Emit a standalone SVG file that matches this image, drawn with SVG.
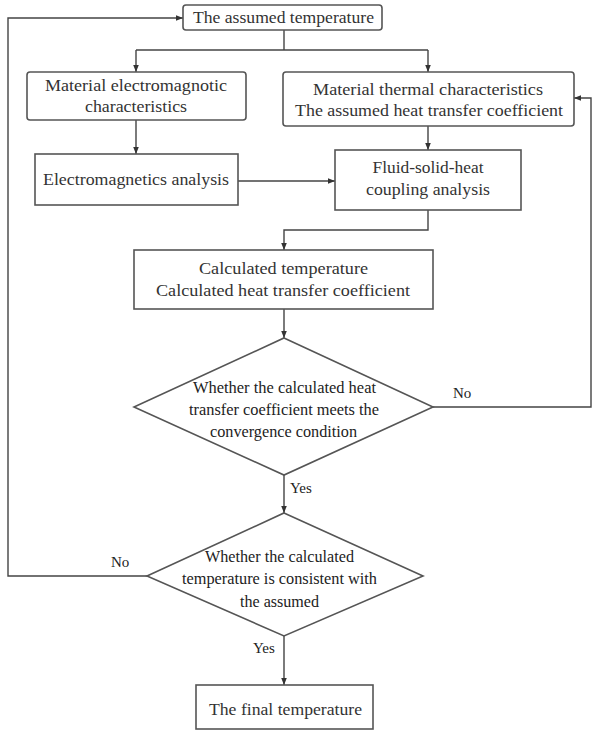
<svg xmlns="http://www.w3.org/2000/svg" width="592" height="731" viewBox="0 0 592 731" font-family="Liberation Serif">
<style>
.box{fill:#fff;stroke:#555;stroke-width:1.6}
.ln{fill:none;stroke:#444;stroke-width:1.4}
text{font-family:"Liberation Serif","Times New Roman",serif;font-size:16px;fill:#333;text-anchor:middle}
.lbl{font-size:15px;text-anchor:start;fill:#222}
.dt{fill:#222}
</style>
<defs>
<marker id="ah" viewBox="0 0 10 10" refX="10" refY="5" markerWidth="7" markerHeight="7" markerUnits="userSpaceOnUse" orient="auto">
<path d="M0,1 L10,5 L0,9 Z" fill="#333"/>
</marker>
</defs>
<rect width="592" height="731" fill="#fff"/>
<g id="connectors">
<path class="ln" d="M284,30 V50"/>
<path class="ln" d="M136,50 H428"/>
<path class="ln" d="M136,50 V72" marker-end="url(#ah)"/>
<path class="ln" d="M428,50 V72" marker-end="url(#ah)"/>
<path class="ln" d="M136,120 V154" marker-end="url(#ah)"/>
<path class="ln" d="M428,126 V150" marker-end="url(#ah)"/>
<path class="ln" d="M238,181 H335" marker-end="url(#ah)"/>
<path class="ln" d="M428,210 V230 H284 V250" marker-end="url(#ah)"/>
<path class="ln" d="M284,309 V338" marker-end="url(#ah)"/>
<path class="ln" d="M284,475 V513" marker-end="url(#ah)"/>
<path class="ln" d="M284,636 V685" marker-end="url(#ah)"/>
<path class="ln" d="M433,407 H591 V98 H574" marker-end="url(#ah)"/>
<path class="ln" d="M147,576 H8 V18 H183" marker-end="url(#ah)"/>
<text class="lbl" x="453" y="398">No</text>
<text class="lbl" x="290" y="493">Yes</text>
<text class="lbl" x="111" y="567">No</text>
<text class="lbl" x="253" y="653">Yes</text>
</g>
<g id="n1">
<rect class="box" x="183" y="5" width="199" height="25" rx="3"/>
<text x="283.5" y="23" textLength="181" lengthAdjust="spacingAndGlyphs">The assumed temperature</text>
</g>
<g id="n2">
<rect class="box" x="27" y="72" width="219" height="48" rx="3"/>
<text x="136" y="91" textLength="182" lengthAdjust="spacingAndGlyphs">Material electromagnotic</text>
<text x="136" y="112" textLength="102" lengthAdjust="spacingAndGlyphs">characteristics</text>
</g>
<g id="n3">
<rect class="box" x="283" y="72" width="291" height="54" rx="3"/>
<text x="428" y="95" textLength="230" lengthAdjust="spacingAndGlyphs">Material thermal characteristics</text>
<text x="429" y="116" textLength="268" lengthAdjust="spacingAndGlyphs">The assumed heat transfer coefficient</text>
</g>
<g id="n4">
<rect class="box" x="35" y="154" width="203" height="51"/>
<text x="136" y="185" textLength="186" lengthAdjust="spacingAndGlyphs">Electromagnetics analysis</text>
</g>
<g id="n5">
<rect class="box" x="335" y="150" width="186" height="60"/>
<text x="428" y="173" textLength="111" lengthAdjust="spacingAndGlyphs">Fluid-solid-heat</text>
<text x="428" y="195" textLength="124" lengthAdjust="spacingAndGlyphs">coupling analysis</text>
</g>
<g id="n6">
<rect class="box" x="134" y="250" width="299" height="59"/>
<text x="283.5" y="274" textLength="169" lengthAdjust="spacingAndGlyphs">Calculated temperature</text>
<text x="283" y="296" textLength="254" lengthAdjust="spacingAndGlyphs">Calculated heat transfer coefficient</text>
</g>
<g id="n7">
<polygon class="box" points="284,338 433,407 284,475 134,407"/>
<text class="dt" x="284.5" y="393" textLength="183" lengthAdjust="spacingAndGlyphs">Whether the calculated heat</text>
<text class="dt" x="284" y="415" textLength="190" lengthAdjust="spacingAndGlyphs">transfer coefficient meets the</text>
<text class="dt" x="283.5" y="437" textLength="147" lengthAdjust="spacingAndGlyphs">convergence condition</text>
</g>
<g id="n8">
<polygon class="box" points="284,513 423,576 284,636 147,576"/>
<text class="dt" x="279.5" y="562" textLength="149" lengthAdjust="spacingAndGlyphs">Whether the calculated</text>
<text class="dt" x="279.5" y="584" textLength="195" lengthAdjust="spacingAndGlyphs">temperature is consistent with</text>
<text class="dt" x="279.5" y="607" textLength="79" lengthAdjust="spacingAndGlyphs">the assumed</text>
</g>
<g id="n9">
<rect class="box" x="196" y="685" width="177" height="44"/>
<text x="285.5" y="715" textLength="153" lengthAdjust="spacingAndGlyphs">The final temperature</text>
</g>
</svg>
